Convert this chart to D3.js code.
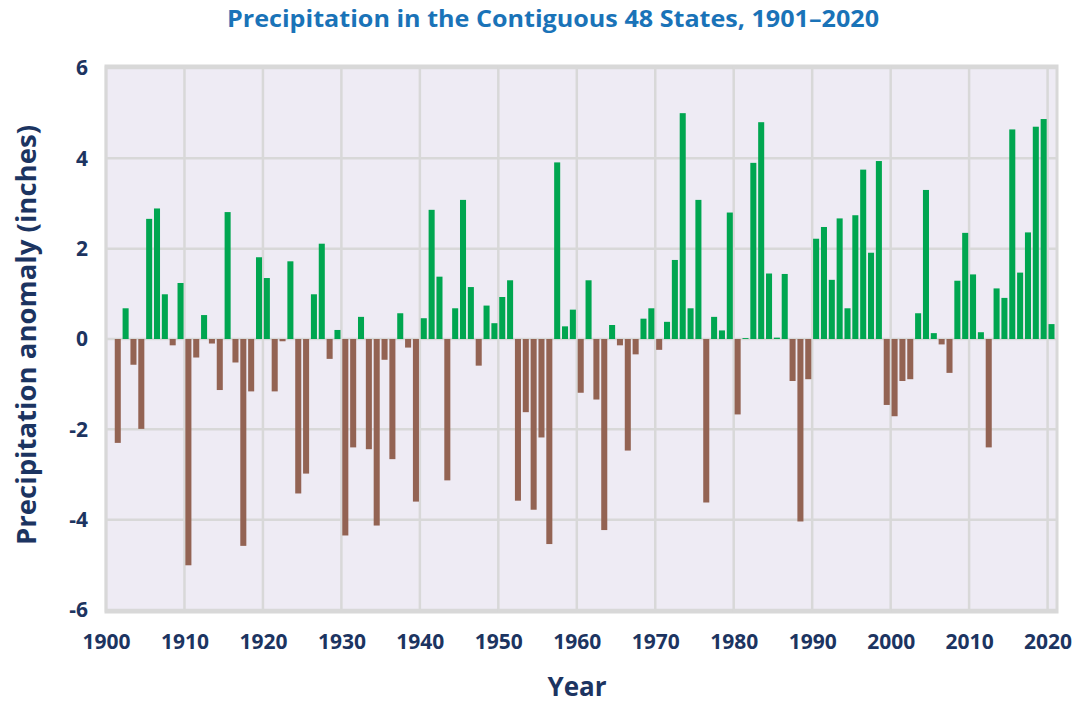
<!DOCTYPE html>
<html lang="en">
<head>
<meta charset="utf-8">
<title>Precipitation in the Contiguous 48 States, 1901–2020</title>
<script src="https://d3js.org/d3.v7.min.js"></script>
<style>
    body { margin: 0; background: #fff; }
    text { font-family: "Open Sans", "DejaVu Sans", sans-serif; }
    .tick text { font-weight: 700; fill: #1c3461; font-size: 21px; }
    .title { font-weight: 700; fill: #1a73b8; font-size: 24px; }
    .axis-label { font-weight: 700; fill: #1c3461; }
    .grid line { stroke: #d8d8d8; stroke-width: 2.5px; }
</style>
</head>
<body>
<svg id="chart" width="1075" height="703"></svg>
<script>
    // anomaly by year, inches
    var years = d3.range(1901, 2021);
    var anomaly = [
        -2.30, 0.68, -0.57, -1.99, 2.66, 2.89, 0.99, -0.14, 1.24, -5.01,   // 1901-1910
        -0.41, 0.53, -0.10, -1.13, 2.81, -0.52, -4.58, -1.16, 1.81, 1.35,  // 1911-1920
        -1.16, -0.05, 1.72, -3.42, -2.98, 0.99, 2.11, -0.44, 0.20, -4.35,  // 1921-1930
        -2.40, 0.49, -2.44, -4.13, -0.46, -2.66, 0.57, -0.19, -3.60, 0.46, // 1931-1940
        2.86, 1.38, -3.13, 0.68, 3.08, 1.15, -0.59, 0.74, 0.35, 0.93,      // 1941-1950
        1.30, -3.58, -1.62, -3.78, -2.18, -4.54, 3.91, 0.28, 0.65, -1.19,  // 1951-1960
        1.30, -1.34, -4.23, 0.31, -0.14, -2.47, -0.34, 0.45, 0.68, -0.24,  // 1961-1970
        0.38, 1.75, 5.00, 0.68, 3.08, -3.62, 0.49, 0.19, 2.80, -1.67,      // 1971-1980
        0.02, 3.90, 4.80, 1.45, 0.03, 1.44, -0.93, -4.04, -0.89, 2.22,     // 1981-1990
        2.48, 1.31, 2.67, 0.68, 2.74, 3.75, 1.91, 3.94, -1.46, -1.71,      // 1991-2000
        -0.93, -0.89, 0.57, 3.30, 0.13, -0.12, -0.75, 1.29, 2.35, 1.43,    // 2001-2010
        0.15, -2.40, 1.12, 0.91, 4.64, 1.47, 2.36, 4.70, 4.87, 0.33        // 2011-2020
    ];
    var xTicks = d3.range(1900, 2021, 10);
    var yTicks = [-6, -4, -2, 0, 2, 4, 6];

    var data = years.map(function(y, i) { return {year: y, value: anomaly[i]}; });

    var svg = d3.select("#chart");

    var x = d3.scaleLinear().domain([1900, 2021.2]).range([106, 1057]);
    var y = d3.scaleLinear().domain([-6, 6]).range([610, 68]);

    // plot background
    svg.append("rect")
        .attr("x", x(1900))
        .attr("y", y(6) - 2)
        .attr("width", x(2021.2) - x(1900))
        .attr("height", y(-6) - y(6) + 4)
        .attr("fill", "#eeebf4")
        .attr("stroke", "#d8d8d8")
        .attr("stroke-width", 3);

    // grid
    svg.append("g").attr("class", "grid")
        .selectAll("line").data(yTicks).enter().append("line")
        .attr("x1", x(1900)).attr("x2", x(2021.2))
        .attr("y1", function(d) { return y(d); })
        .attr("y2", function(d) { return y(d); });
    svg.append("g").attr("class", "grid")
        .selectAll("line").data(xTicks).enter().append("line")
        .attr("x1", function(d) { return x(d); })
        .attr("x2", function(d) { return x(d); })
        .attr("y1", y(6) - 2).attr("y2", y(-6) + 2);

    // bars, centred half a year after the year mark
    var bw = (x(1) - x(0)) * 0.77;
    svg.append("g")
        .selectAll("rect").data(data).enter().append("rect")
        .attr("x", function(d) { return x(d.year + 0.5) - bw / 2; })
        .attr("width", bw)
        .attr("y", function(d) { return y(Math.max(0, d.value)); })
        .attr("height", function(d) { return Math.abs(y(d.value) - y(0)); })
        .attr("fill", function(d) { return d.value >= 0 ? "#00a650" : "#936353"; });

    // axes
    var xAxis = svg.append("g")
        .attr("transform", "translate(0," + (y(-6) + 2) + ")")
        .call(d3.axisBottom(x).tickValues(xTicks).tickFormat(d3.format("d")).tickSize(0).tickPadding(22));
    xAxis.select(".domain").remove();

    var yAxis = svg.append("g")
        .attr("transform", "translate(" + x(1900) + ",0)")
        .call(d3.axisLeft(y).tickValues(yTicks).tickFormat(function(d) { return String(d); })
            .tickSize(0).tickPadding(18));
    yAxis.select(".domain").remove();

    // title and labels
    svg.append("text")
        .attr("class", "title")
        .attr("x", 553).attr("y", 27)
        .attr("text-anchor", "middle")
        .attr("textLength", 652)
        .attr("lengthAdjust", "spacingAndGlyphs")
        .text("Precipitation in the Contiguous 48 States, 1901–2020");

    svg.append("text")
        .attr("class", "axis-label")
        .attr("x", 577).attr("y", 696)
        .attr("text-anchor", "middle")
        .style("font-size", "26px")
        .text("Year");

    svg.append("text")
        .attr("class", "axis-label")
        .attr("transform", "translate(36,335) rotate(-90)")
        .attr("text-anchor", "middle")
        .attr("textLength", 420)
        .attr("lengthAdjust", "spacingAndGlyphs")
        .style("font-size", "26px")
        .text("Precipitation anomaly (inches)");
</script>
</body>
</html>
